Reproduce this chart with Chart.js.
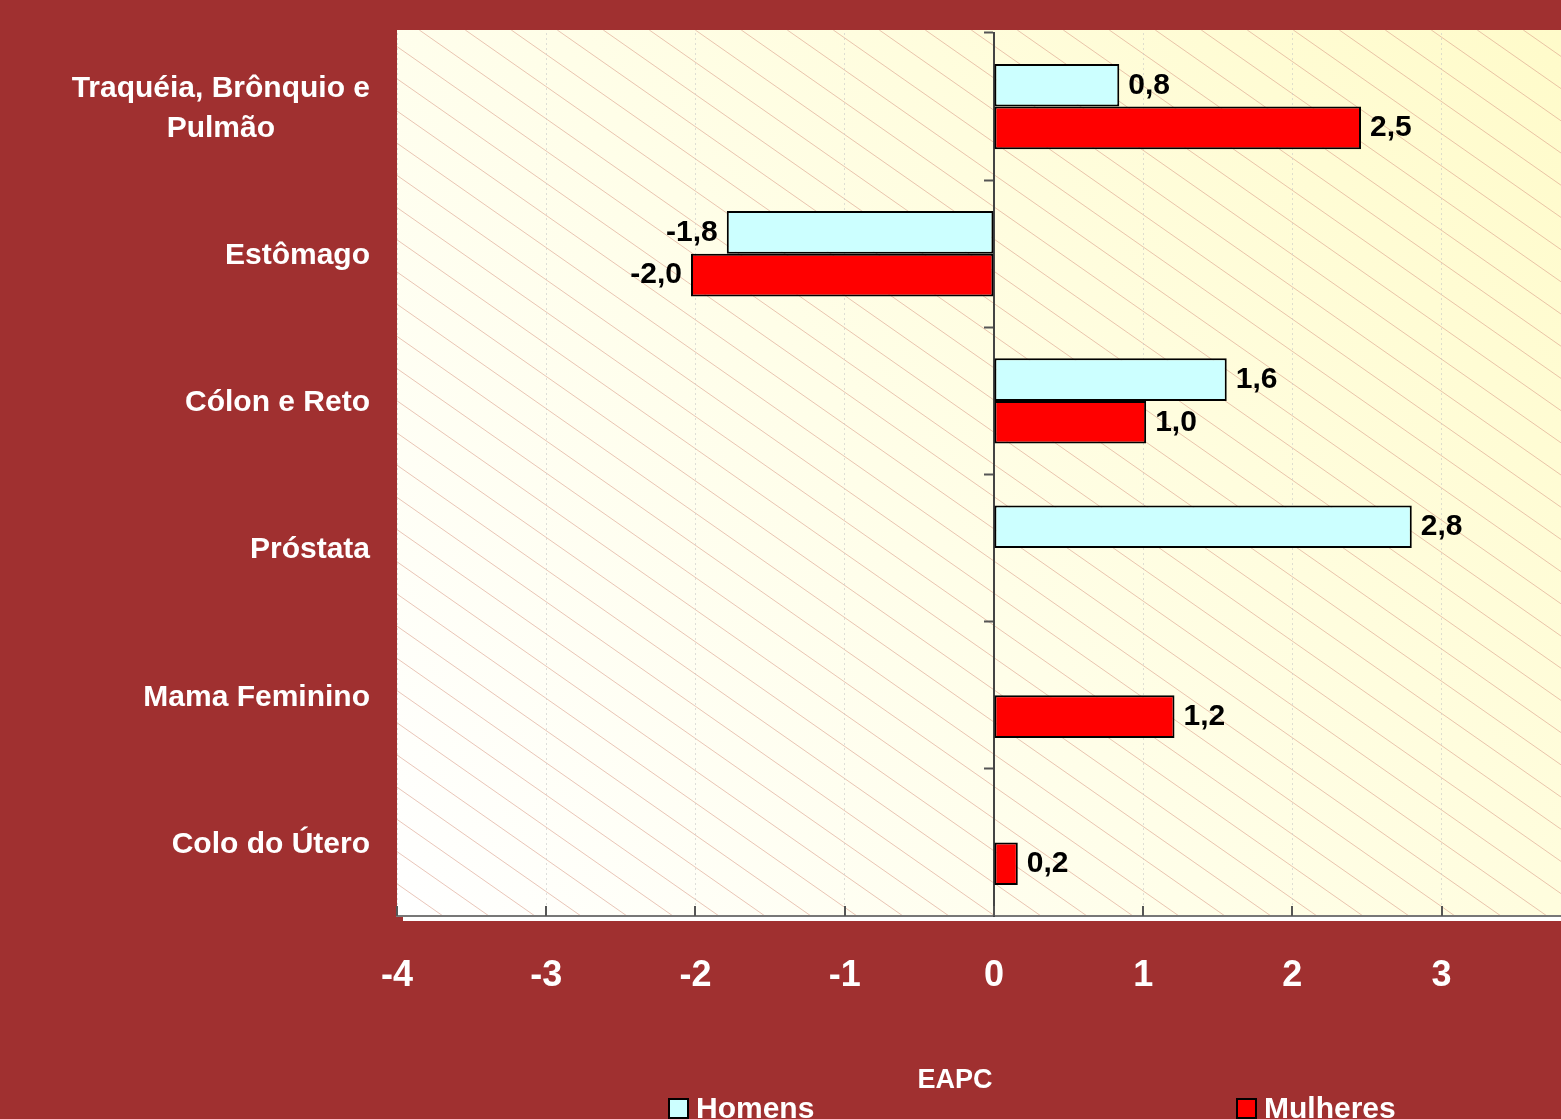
<!DOCTYPE html>
<html>
<head>
<meta charset="utf-8">
<script src="https://cdn.jsdelivr.net/npm/chart.js@4"></script>
<style>
  html, body { margin: 0; padding: 0; background: #a03030; overflow: hidden; }
  canvas { display: block; }
</style>
</head>
<body>
<canvas id="eapc-chart" width="1561" height="1119"></canvas>
<script>
// categorias (eixo y)
const categories = [['Traquéia, Brônquio e', 'Pulmão'], 'Estômago', 'Cólon e Reto', 'Próstata', 'Mama Feminino', 'Colo do Útero'];
// EAPC por sexo
const homens = [0.84, -1.79, 1.56, 2.8, null, null];
const mulheres = [2.46, -2.03, 1.02, null, 1.21, 0.16];
// marcas do eixo x
const xTicks = [-4, -3, -2, -1, 0, 1, 2, 3];

const FONT = '"Liberation Sans", Arial, sans-serif';

// fundo do grafico: gradiente + hachura diagonal
const plotBackground = {
  id: 'plotBackground',
  beforeDraw(chart) {
    const ctx = chart.ctx;
    const a = chart.chartArea;
    const top = a.top - 3;
    ctx.save();
    const g = ctx.createLinearGradient(a.left, a.bottom, a.right, top);
    g.addColorStop(0, '#ffffff');
    g.addColorStop(0.45, '#fffee8');
    g.addColorStop(1, '#fffbca');
    ctx.fillStyle = g;
    ctx.fillRect(a.left, top, a.right - a.left, a.bottom - top);

    ctx.beginPath();
    ctx.rect(a.left, top, a.right - a.left, a.bottom - top);
    ctx.clip();
    ctx.strokeStyle = 'rgba(215,150,130,0.55)';
    ctx.lineWidth = 1;
    const h = a.bottom - top;
    const slope = 0.7;
    for (let x = a.left - h / slope; x < a.right; x += 46) {
      ctx.beginPath();
      ctx.moveTo(x, top);
      ctx.lineTo(x + h / slope, a.bottom);
      ctx.stroke();
    }
    ctx.restore();
  }
};

// rotulos, marcas, legenda e titulo
const decorations = {
  id: 'decorations',
  afterDraw(chart) {
    const ctx = chart.ctx;
    const a = chart.chartArea;
    const xs = chart.scales.x;
    const ys = chart.scales.y;
    ctx.save();

    // faixa branca abaixo do eixo x
    ctx.strokeStyle = '#ffffff';
    ctx.lineWidth = 4;
    ctx.beginPath();
    ctx.moveTo(a.left + 6, a.bottom + 3);
    ctx.lineTo(a.right, a.bottom + 3);
    ctx.stroke();

    // marcas do eixo x para cima
    ctx.strokeStyle = '#555';
    ctx.lineWidth = 2;
    xTicks.forEach(v => {
      const px = Math.round(xs.getPixelForValue(v));
      ctx.beginPath();
      ctx.moveTo(px, a.bottom);
      ctx.lineTo(px, a.bottom - 10);
      ctx.stroke();
    });

    // nomes das categorias
    ctx.fillStyle = '#ffffff';
    ctx.font = 'bold 30px ' + FONT;
    ctx.textBaseline = 'middle';
    ctx.textAlign = 'center';
    const rightEdge = a.left - 27;
    categories.forEach((label, i) => {
      const lines = Array.isArray(label) ? label : [label];
      const w = Math.max(...lines.map(l => ctx.measureText(l).width));
      const cx = rightEdge - w / 2;
      const cy = ys.getPixelForValue(i) + 2;
      const lh = 40;
      lines.forEach((l, k) => {
        ctx.fillText(l, cx, cy + (k - (lines.length - 1) / 2) * lh);
      });
    });

    // valores nas barras
    ctx.fillStyle = '#000000';
    ctx.font = 'bold 30px ' + FONT;
    chart.data.datasets.forEach((ds, di) => {
      const meta = chart.getDatasetMeta(di);
      meta.data.forEach((bar, i) => {
        const v = ds.data[i];
        if (v === null) return;
        const txt = v.toFixed(1).replace('.', ',');
        if (v >= 0) {
          ctx.textAlign = 'left';
          ctx.fillText(txt, bar.x + 9, bar.y);
        } else {
          ctx.textAlign = 'right';
          ctx.fillText(txt, bar.x - 9, bar.y);
        }
      });
    });

    // titulo do eixo
    ctx.fillStyle = '#ffffff';
    ctx.font = 'bold 27px ' + FONT;
    ctx.textAlign = 'center';
    ctx.fillText('EAPC', 955, 1081);

    // legenda
    ctx.font = 'bold 30px ' + FONT;
    ctx.textAlign = 'left';
    const legendX = [669, 1237];
    chart.data.datasets.forEach((ds, di) => {
      const bx = legendX[di];
      ctx.fillStyle = ds.backgroundColor;
      ctx.fillRect(bx, 1099, 19, 19);
      ctx.strokeStyle = '#000';
      ctx.lineWidth = 2;
      ctx.strokeRect(bx, 1099, 19, 19);
      ctx.fillStyle = '#ffffff';
      ctx.fillText(ds.label, bx + 27, 1110);
    });

    ctx.restore();
  }
};

new Chart(document.getElementById('eapc-chart'), {
  type: 'bar',
  data: {
    labels: categories,
    datasets: [
      {
        label: 'Homens',
        data: homens,
        backgroundColor: '#ccffff',
        borderColor: '#000000',
        borderWidth: 2,
        borderSkipped: false
      },
      {
        label: 'Mulheres',
        data: mulheres,
        backgroundColor: '#ff0000',
        borderColor: '#000000',
        borderWidth: 2,
        borderSkipped: false
      }
    ]
  },
  options: {
    indexAxis: 'y',
    responsive: false,
    animation: false,
    devicePixelRatio: 1,
    barPercentage: 1,
    categoryPercentage: 0.58,
    layout: { padding: { left: 397, top: 33, right: 0, bottom: 0 } },
    plugins: {
      legend: { display: false },
      tooltip: { enabled: false }
    },
    scales: {
      x: {
        type: 'linear',
        min: -4,
        max: 3.8,
        afterBuildTicks: s => { s.ticks = xTicks.map(v => ({ value: v })); },
        afterFit: s => { s.height = 203; },
        grid: {
          color: 'rgba(200,200,200,0.6)',
          lineWidth: 1,
          drawTicks: false
        },
        border: { display: true, color: '#777', width: 2, dash: [2, 3] },
        ticks: {
          color: '#ffffff',
          padding: 38,
          font: { family: FONT, size: 36, weight: 'bold' }
        }
      },
      y: {
        type: 'category',
        position: { x: 0 },
        offset: true,
        grid: {
          drawOnChartArea: false,
          drawTicks: true,
          tickLength: 9,
          tickColor: '#555',
          tickWidth: 2,
          offset: true
        },
        border: { display: true, color: '#444', width: 2 },
        ticks: { display: false }
      }
    }
  },
  plugins: [plotBackground, decorations]
});
</script>
</body>
</html>
